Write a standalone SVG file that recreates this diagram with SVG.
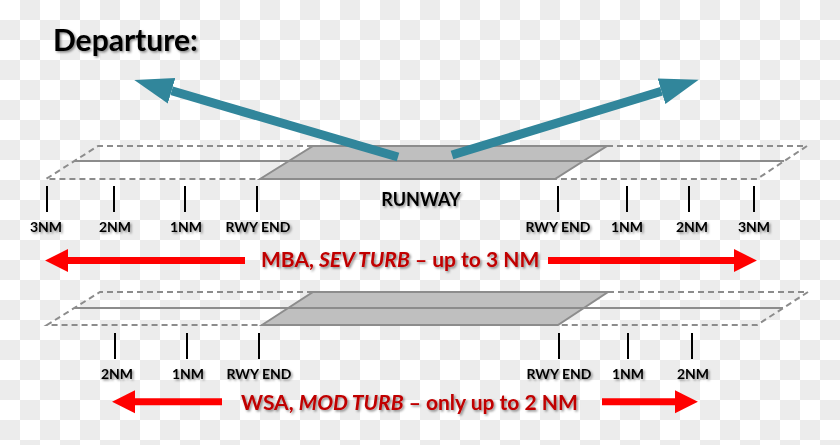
<svg xmlns="http://www.w3.org/2000/svg" width="840" height="445" viewBox="0 0 840 445">
<defs>
<pattern id="checker" width="40" height="40" patternUnits="userSpaceOnUse">
<rect width="40" height="40" fill="#ffffff"/>
<rect x="20" y="0" width="20" height="20" fill="#ececec"/>
<rect x="0" y="20" width="20" height="20" fill="#ececec"/>
</pattern>
<filter id="shadow" x="-10%" y="-30%" width="120%" height="160%">
<feDropShadow dx="1.5" dy="1.5" stdDeviation="1" flood-color="#000" flood-opacity="0.45"/>
</filter>
<marker id="tealHead" markerUnits="userSpaceOnUse" markerWidth="40" markerHeight="30" refX="0" refY="12" orient="auto" viewBox="0 0 36 24">
<path d="M0,0 L35,12 L0,24 z" fill="#31869b"/>
</marker>
<marker id="redHead" markerUnits="userSpaceOnUse" markerWidth="24" markerHeight="24" refX="0" refY="10.5" orient="auto" viewBox="0 0 22 21">
<path d="M0,0 L21,10.5 L0,21 z" fill="#ff0000"/>
</marker>
</defs>
<style>
.rwy{fill:#bfbfbf;stroke:#8c8c8c;stroke-width:2;stroke-linejoin:miter}
.dash{fill:none;stroke:#8c8c8c;stroke-width:2;stroke-dasharray:6 4}
.mid{stroke:#8c8c8c;stroke-width:2}
.tick{stroke:#000;stroke-width:2}
.lbl{font-family:Lato,"Liberation Sans",sans-serif;font-weight:bold;font-size:14px;fill:#000;text-anchor:middle;filter:url(#shadow)}
.red{font-family:Lato,"Liberation Sans",sans-serif;font-weight:bold;font-size:21px;fill:#c00000;filter:url(#shadow)}
.title{font-family:Lato,"Liberation Sans",sans-serif;font-weight:bold;font-size:30px;fill:#000;filter:url(#shadow)}
.tealArrow{stroke:#31869b;stroke-width:9;marker-end:url(#tealHead)}
.redArrow{stroke:#ff0000;stroke-width:7;marker-end:url(#redHead)}
</style>
<rect width="840" height="445" fill="url(#checker)"/>

<g id="title"><text class="title" x="53" y="51">Departure:</text></g>

<g id="runway-top">
<polygon class="rwy" points="260,179 313,146 607,146 555,179"/>
<polyline class="dash" points="313,146 98,146 46,179 260,179"/>
<polyline class="dash" points="607,146 807,146 757,179 555,179"/>
<line class="mid" x1="74" y1="161" x2="784" y2="161"/>
<text class="lbl" x="421" y="206" style="font-size:18px">RUNWAY</text>
</g>

<g id="ticks-top">
<line class="tick" x1="47" y1="186" x2="47" y2="212"/>
<line class="tick" x1="114" y1="186" x2="114" y2="212"/>
<line class="tick" x1="185" y1="186" x2="185" y2="212"/>
<line class="tick" x1="257" y1="186" x2="257" y2="212"/>
<line class="tick" x1="558" y1="186" x2="558" y2="212"/>
<line class="tick" x1="627" y1="186" x2="627" y2="212"/>
<line class="tick" x1="689" y1="186" x2="689" y2="212"/>
<line class="tick" x1="754" y1="186" x2="754" y2="212"/>
<text class="lbl" x="46" y="232">3NM</text>
<text class="lbl" x="115" y="232">2NM</text>
<text class="lbl" x="186" y="232">1NM</text>
<text class="lbl" x="258" y="232">RWY END</text>
<text class="lbl" x="558" y="232">RWY END</text>
<text class="lbl" x="627" y="232">1NM</text>
<text class="lbl" x="692" y="232">2NM</text>
<text class="lbl" x="754" y="232">3NM</text>
</g>

<g id="mba-label"><text class="red" x="261" y="267">MBA, <tspan font-style="italic">SEV TURB</tspan> – up to 3 NM</text></g>

<g id="runway-bottom">
<polygon class="rwy" points="262,325 313,292 608,292 558,325"/>
<polyline class="dash" points="313,292 100,292 47,325 262,325"/>
<polyline class="dash" points="608,292 808,292 757,325 558,325"/>
<line class="mid" x1="74" y1="308" x2="783" y2="308"/>
</g>

<g id="ticks-bottom">
<line class="tick" x1="115" y1="333" x2="115" y2="359"/>
<line class="tick" x1="187" y1="333" x2="187" y2="359"/>
<line class="tick" x1="259" y1="333" x2="259" y2="359"/>
<line class="tick" x1="559" y1="333" x2="559" y2="359"/>
<line class="tick" x1="628" y1="333" x2="628" y2="359"/>
<line class="tick" x1="692" y1="333" x2="692" y2="359"/>
<text class="lbl" x="117" y="379">2NM</text>
<text class="lbl" x="188" y="379">1NM</text>
<text class="lbl" x="259" y="379">RWY END</text>
<text class="lbl" x="559" y="379">RWY END</text>
<text class="lbl" x="628" y="379">1NM</text>
<text class="lbl" x="693" y="379">2NM</text>
</g>

<g id="wsa-label"><text class="red" x="241" y="410">WSA, <tspan font-style="italic">MOD TURB</tspan> – only up to 2 NM</text></g>

<g id="connectors">
<line class="tealArrow" x1="398" y1="157" x2="171.6" y2="90.8"/>
<line class="tealArrow" x1="452" y1="155" x2="661.5" y2="91.2"/>
<line class="redArrow" x1="245" y1="260.5" x2="68" y2="260.5"/>
<line class="redArrow" x1="548" y1="260.5" x2="734" y2="260.5"/>
<line class="redArrow" x1="222" y1="401.7" x2="135" y2="401.7"/>
<line class="redArrow" x1="602" y1="401.7" x2="675" y2="401.7"/>
</g>
</svg>
